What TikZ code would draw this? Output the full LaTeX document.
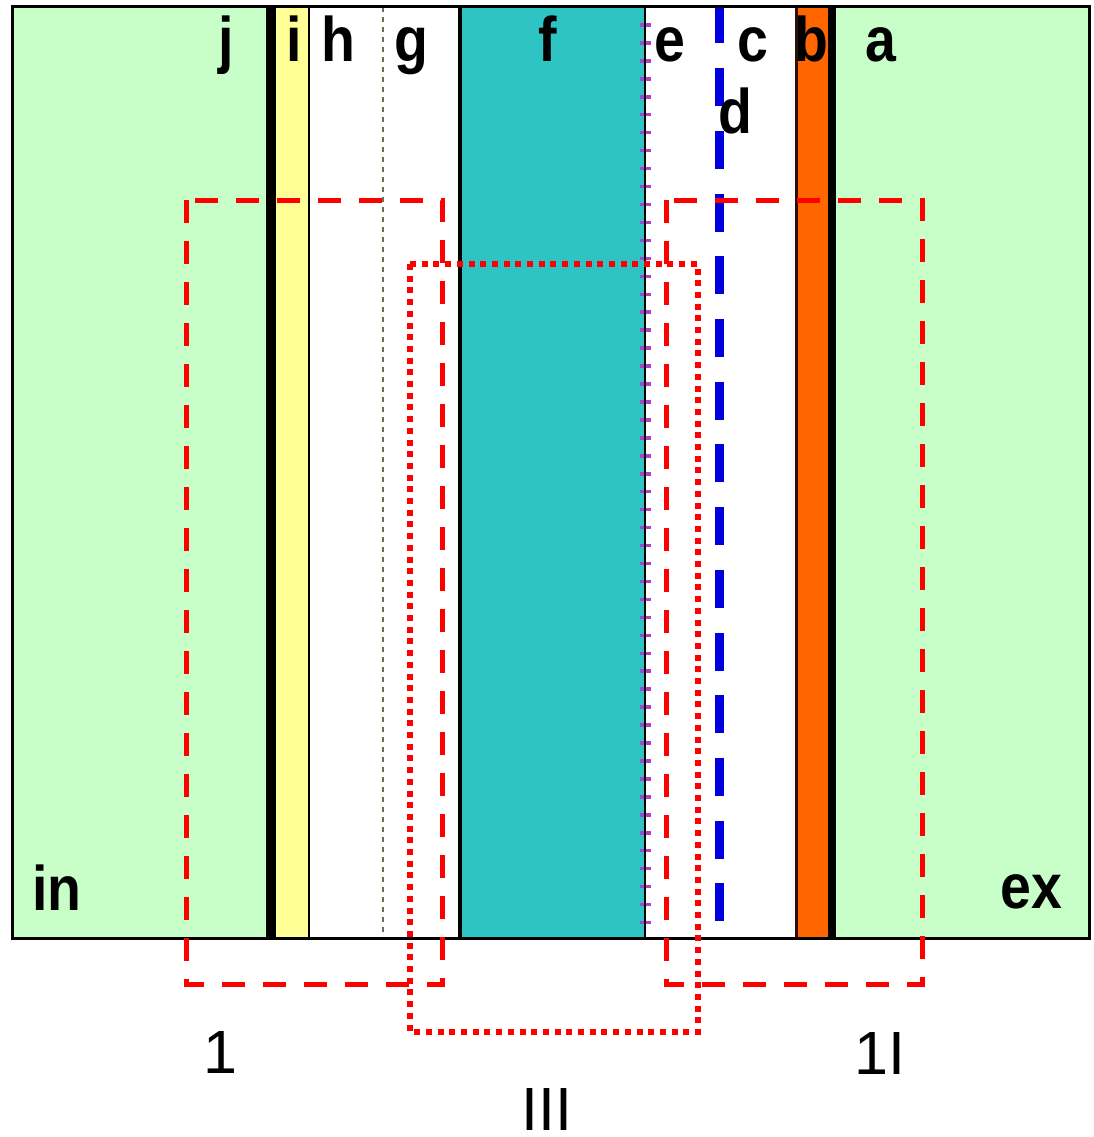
\documentclass[tikz,border=0pt]{standalone}
\usepackage{fontspec}
\setmainfont{Liberation Sans}
\newfontfamily\labelfont[FakeStretch=0.88]{Liberation Sans}
\definecolor{mint}{RGB}{200,255,200}
\definecolor{paleyellow}{RGB}{255,255,150}
\definecolor{tealfill}{RGB}{46,196,196}
\definecolor{orangefill}{RGB}{255,102,0}
\definecolor{darkedge}{RGB}{48,16,0}
\definecolor{olivedot}{RGB}{110,110,80}
\definecolor{tickpurple}{RGB}{176,64,208}
\definecolor{lineblue}{RGB}{0,0,221}
\definecolor{zonered}{RGB}{255,0,0}
\begin{document}
\begin{tikzpicture}[x=1pt,y=-1pt,
  layerlabel/.style={font=\labelfont\fontsize{63}{63}\selectfont\bfseries, anchor=base, inner sep=0pt},
  zonelabel/.style={font=\fontsize{61}{61}\selectfont, anchor=base, inner sep=0pt},
  zonedash/.style={draw=zonered, line width=5pt, dash pattern=on 23pt off 18pt},
  zonedot/.style={draw=zonered, line width=5.5pt, dash pattern=on 6pt off 5.7pt},
  tickmark/.style={draw=tickpurple, line width=3.5pt},
]
\useasboundingbox (0,0) rectangle (1093,1137);
\fill[white] (0,0) rectangle (1093,1137);

% layers
\fill[mint] (12,7) rectangle (271,938);
\fill[paleyellow] (271,7) rectangle (309,938);
\fill[tealfill] (460,7) rectangle (645,938);
\fill[orangefill] (796,7) rectangle (832,938);
\fill[mint] (832,7) rectangle (1089.5,938);

% boundaries between layers
\draw[line width=10pt] (271,7) -- (271,938);
\draw[line width=2pt] (309,7) -- (309,938);
\draw[olivedot, line width=2.5pt, dash pattern=on 5pt off 5pt] (383,7) -- (383,938);
\draw[line width=4pt] (460,7) -- (460,938);
\foreach \y in {25,42.95,...,935} \draw[tickmark] (640,\y) -- (651,\y);
\draw[line width=1.5pt] (645,7) -- (645,938);
\draw[lineblue, line width=8.5pt, dash pattern=on 38pt off 24.7pt] (719.5,5.5) -- (719.5,938);
\draw[darkedge, line width=3pt] (796.5,7) -- (796.5,938);
\draw[line width=8pt] (832,7) -- (832,938);

% outer frame
\draw[line width=3pt] (12,7) rectangle (1089.5,938);

% layer letters
\node[layerlabel] (lj) at (226,62) {j};
\node[layerlabel] (li) at (294,62) {i};
\node[layerlabel] (lh) at (338,62) {h};
\node[layerlabel] (lg) at (411,62) {g};
\node[layerlabel] (lf) at (548,62) {f};
\node[layerlabel] (le) at (670,62) {e};
\node[layerlabel] (lc) at (753,62) {c};
\node[layerlabel] (lb) at (811,62) {b};
\node[layerlabel] (la) at (881,62) {a};
\node[layerlabel] (ld) at (735,134) {d};
\node[layerlabel] (lin) at (57,910) {in};
\node[layerlabel] (lex) at (1031,908) {ex};

% zones
\draw[zonedash] (186,200) rectangle (442.5,984.5);
\draw[zonedash] (666,200) rectangle (922,984.5);
\draw[zonedot] (410,264) rectangle (698,1032);

\node[zonelabel] (zI) at (220,1073) {1};
\node[zonelabel] (zII) at (880,1074) {1I};
\node[zonelabel] (zIII) at (547,1130) {III};
\end{tikzpicture}
\end{document}
